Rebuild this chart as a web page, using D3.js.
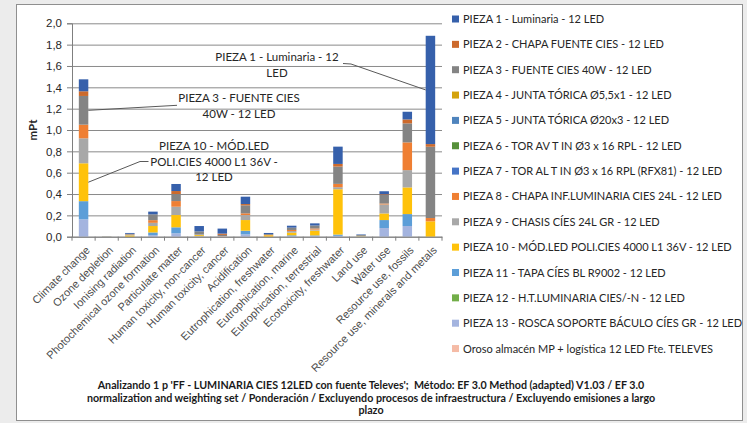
<!DOCTYPE html>
<html>
<head>
<meta charset="utf-8">
<script src="https://cdn.jsdelivr.net/npm/d3@7/dist/d3.min.js"></script>
<style>
  html, body { margin: 0; padding: 0; background: #ececec; }
  svg { display: block; font-family: Lato, "Open Sans", sans-serif; }
</style>
</head>
<body>
<div id="chart"></div>
<script>
// impact categories (x axis)
var categories = [
  "Climate change", "Ozone depletion", "Ionising radiation", "Photochemical ozone formation",
  "Particulate matter", "Human toxicity, non-cancer", "Human toxicity, cancer", "Acidification",
  "Eutrophication, freshwater", "Eutrophication, marine", "Eutrophication, terrestrial",
  "Ecotoxicity, freshwater", "Land use", "Water use", "Resource use, fossils",
  "Resource use, minerals and metals"
];

// series names, in legend order
var seriesNames = [
  "PIEZA 1 - Luminaria - 12 LED",
  "PIEZA 2 - CHAPA FUENTE CIES - 12 LED",
  "PIEZA 3 - FUENTE CIES 40W - 12 LED",
  "PIEZA 4 - JUNTA TÓRICA Ø5,5x1 - 12 LED",
  "PIEZA 5 - JUNTA TÓRICA Ø20x3 - 12 LED",
  "PIEZA 6 - TOR AV T IN Ø3 x 16 RPL - 12 LED",
  "PIEZA 7 - TOR AL T IN Ø3 x 16 RPL (RFX81) - 12 LED",
  "PIEZA 8 - CHAPA INF.LUMINARIA CIES 24L - 12 LED",
  "PIEZA 9 - CHASIS CÍES 24L GR - 12 LED",
  "PIEZA 10 - MÓD.LED POLI.CIES 4000 L1 36V - 12 LED",
  "PIEZA 11 - TAPA CÍES BL R9002 - 12 LED",
  "PIEZA 12 - H.T.LUMINARIA CIES/-N - 12 LED",
  "PIEZA 13 - ROSCA SOPORTE BÁCULO CÍES GR - 12 LED",
  "Oroso almacén MP + logística 12 LED Fte. TELEVES"
];

// values in mPt, one array per series (same order as categories)
var pieza1  = [0.112, 0.001, 0.008, 0.025, 0.066, 0.050, 0.047, 0.069, 0.010, 0.018, 0.020, 0.162, 0.005, 0.028, 0.072, 1.015];
var pieza2  = [0.044, 0, 0, 0, 0.028, 0, 0.012, 0.012, 0, 0, 0, 0.025, 0, 0.006, 0.037, 0.025];
var pieza3  = [0.269, 0.001, 0.007, 0.055, 0.066, 0.030, 0.012, 0.075, 0.008, 0.022, 0.028, 0.162, 0.008, 0.081, 0.178, 0.668];
var pieza4  = [0, 0, 0, 0, 0, 0, 0, 0, 0, 0, 0, 0, 0, 0, 0, 0];
var pieza5  = [0, 0, 0, 0, 0, 0, 0, 0, 0, 0, 0, 0, 0, 0, 0, 0];
var pieza6  = [0, 0, 0, 0, 0, 0, 0, 0, 0, 0, 0, 0, 0, 0, 0, 0];
var pieza7  = [0, 0, 0, 0, 0, 0, 0, 0, 0, 0, 0, 0, 0, 0, 0, 0];
var pieza8  = [0.128, 0, 0.004, 0.025, 0.053, 0, 0, 0.016, 0.004, 0.010, 0.010, 0.031, 0, 0.009, 0.260, 0.031];
var pieza9  = [0.234, 0, 0.004, 0.030, 0.078, 0.005, 0, 0.047, 0, 0.015, 0.010, 0.019, 0, 0.084, 0.162, 0];
var pieza10 = [0.355, 0.001, 0.012, 0.060, 0.115, 0.010, 0, 0.100, 0.013, 0.025, 0.045, 0.425, 0.004, 0.062, 0.250, 0.144];
var pieza11 = [0.170, 0, 0, 0.025, 0.056, 0, 0, 0.034, 0, 0.008, 0.007, 0.012, 0, 0.075, 0.112, 0];
var pieza12 = [0, 0, 0, 0, 0, 0, 0, 0, 0, 0, 0, 0, 0, 0, 0, 0];
var pieza13 = [0.163, 0, 0, 0.015, 0.032, 0.005, 0, 0.022, 0, 0.005, 0.005, 0.008, 0.004, 0.081, 0.100, 0];
var oroso   = [0, 0, 0, 0, 0, 0, 0.005, 0, 0, 0, 0, 0, 0, 0, 0, 0];

var seriesValues = [pieza1, pieza2, pieza3, pieza4, pieza5, pieza6, pieza7,
  pieza8, pieza9, pieza10, pieza11, pieza12, pieza13, oroso];

var seriesColors = ["#3660ab", "#cc6a2c", "#848484", "#d4a30c", "#4f84bd", "#56903a", "#4574c6",
  "#ef7f33", "#a8a8a8", "#ffc20a", "#5c9ed8", "#72ae48", "#a4b4df", "#f5bba6"];

var yTicks = [0, 0.2, 0.4, 0.6, 0.8, 1.0, 1.2, 1.4, 1.6, 1.8, 2.0];

// callout labels: series index, category index, text lines, label centre
var callouts = [
  { s: 0, c: 15, lines: ["PIEZA 1 - Luminaria - 12", "LED"], cx: 277, cy: 57 },
  { s: 2, c: 0, lines: ["PIEZA 3 - FUENTE CIES", "40W - 12 LED"], cx: 239, cy: 98 },
  { s: 9, c: 0, lines: ["PIEZA 10 - MÓD.LED", "POLI.CIES 4000 L1 36V -", "12 LED"], cx: 214, cy: 146 }
];

var W = 747, H = 423;
var plot = { left: 72, top: 23.3, right: 442, bottom: 236.7 };

var svg = d3.select("#chart").append("svg")
  .attr("width", W)
  .attr("height", H);

svg.append("rect")
  .attr("x", 16.5).attr("y", 4.5)
  .attr("width", 726).attr("height", 416)
  .attr("fill", "#fff")
  .attr("stroke", "#8f8f8f");

var x = d3.scaleBand()
  .domain(d3.range(categories.length))
  .range([plot.left, plot.right])
  .paddingInner(0.59)
  .paddingOuter(0.295);

var y = d3.scaleLinear()
  .domain([0, 2])
  .range([plot.bottom, plot.top]);

var fmt = function(d) { return d3.format(".1f")(d).replace(".", ","); };

// gridlines
svg.append("g")
  .attr("transform", "translate(" + plot.left + ",0)")
  .call(d3.axisLeft(y).tickValues(yTicks).tickSize(-(plot.right - plot.left)).tickFormat(""))
  .call(function(g) {
    g.select(".domain").remove();
    g.selectAll("line").attr("stroke", "#8a8a8a");
  });

// stacked bars, last series at the bottom
var stackOrder = d3.range(seriesNames.length).reverse();
var stacked = categories.map(function(cat, ci) {
  var base = 0, segs = [];
  stackOrder.forEach(function(si) {
    var v = seriesValues[si][ci];
    segs.push({ s: si, c: ci, y0: base, y1: base + v });
    base += v;
  });
  return segs;
});

svg.append("g").selectAll("g")
  .data(stacked)
  .join("g")
  .selectAll("rect")
  .data(function(d) { return d.filter(function(s) { return s.y1 > s.y0; }); })
  .join("rect")
    .attr("x", function(d) { return x(d.c); })
    .attr("width", x.bandwidth())
    .attr("y", function(d) { return y(d.y1); })
    .attr("height", function(d) { return y(d.y0) - y(d.y1); })
    .attr("fill", function(d) { return seriesColors[d.s]; });

// y axis
svg.append("g")
  .attr("transform", "translate(" + plot.left + ",0)")
  .call(d3.axisLeft(y).tickValues(yTicks).tickSize(5).tickPadding(5).tickFormat(fmt))
  .call(function(g) {
    g.select(".domain").attr("stroke", "#7f7f7f");
    g.selectAll("line").attr("stroke", "#7f7f7f");
    g.selectAll("text").attr("fill", "#262626").style("font-size", "11.5px");
  });

svg.append("text")
  .attr("transform", "translate(37," + ((plot.top + plot.bottom) / 2) + ") rotate(-90)")
  .attr("text-anchor", "middle")
  .attr("fill", "#262626")
  .style("font-size", "11.5px")
  .style("font-weight", "bold")
  .text("mPt");

// x axis
var xAxis = svg.append("g")
  .attr("transform", "translate(0," + plot.bottom + ")")
  .call(d3.axisBottom(x).tickSize(0).tickFormat(function(i) { return categories[i]; }))
  .call(function(g) {
    g.select(".domain").attr("stroke", "#7f7f7f");
    g.selectAll("text")
      .attr("fill", "#4d4d4d")
      .style("font-size", "11px")
      .attr("text-anchor", "end")
      .attr("dy", null)
      .attr("transform", "translate(5,12) rotate(-45)");
  });

// tick marks at category boundaries
xAxis.selectAll(".bound")
  .data(d3.range(categories.length + 1))
  .join("line")
    .attr("class", "bound")
    .attr("x1", function(i) { return plot.left + i * x.step(); })
    .attr("x2", function(i) { return plot.left + i * x.step(); })
    .attr("y1", 0).attr("y2", 4)
    .attr("stroke", "#7f7f7f");

// callouts
callouts.forEach(function(co) {
  var seg = stacked[co.c].find(function(s) { return s.s === co.s; });
  var py = y((seg.y0 + seg.y1) / 2);
  var lineH = 15.5;
  var top = co.cy;
  var g = svg.append("g");
  co.lines.forEach(function(t, i) {
    g.append("text")
      .attr("x", co.cx)
      .attr("y", top + i * lineH + 4)
      .attr("text-anchor", "middle")
      .attr("fill", "#262626")
      .style("font-size", "11.5px")
      .text(t);
  });
  var pts;
  if (co.c === 15) {
    pts = [[343, 63.5], [351, 64], [x(co.c), py]];
  } else if (co.s === 2) {
    pts = [[x(co.c) + x.bandwidth(), py], [177, 105.3]];
  } else {
    pts = [[x(co.c) + x.bandwidth(), py], [140, 161.5], [148.5, 161.5]];
  }
  g.append("path")
    .attr("d", d3.line()(pts))
    .attr("fill", "none")
    .attr("stroke", "#595959")
    .attr("stroke-width", 1);
});

// legend
var legend = svg.append("g")
  .attr("transform", "translate(452,19)")
  .selectAll("g")
  .data(seriesNames)
  .join("g")
    .attr("transform", function(d, i) { return "translate(0," + (i * 25.35) + ")"; });

legend.append("rect")
  .attr("x", 0).attr("y", -3.5)
  .attr("width", 7).attr("height", 7)
  .attr("fill", function(d, i) { return seriesColors[i]; });

legend.append("text")
  .attr("x", 11).attr("y", 4)
  .attr("fill", "#262626")
  .style("font-size", "11px")
  .text(function(d) { return d; });

// footnote title
var titleLines = [
  "Analizando 1 p 'FF - LUMINARIA CIES 12LED con fuente Televes';  Método: EF 3.0 Method (adapted) V1.03 / EF 3.0",
  "normalization and weighting set / Ponderación / Excluyendo procesos de infraestructura / Excluyendo emisiones a largo",
  "plazo"
];
svg.append("g").selectAll("text")
  .data(titleLines)
  .join("text")
    .attr("x", 371)
    .attr("y", function(d, i) { return 389 + i * 12.5; })
    .attr("text-anchor", "middle")
    .attr("fill", "#1a1a1a")
    .style("font-size", "10.7px")
    .style("font-weight", "bold")
    .style("white-space", "pre")
    .text(function(d) { return d; });
</script>
</body>
</html>
